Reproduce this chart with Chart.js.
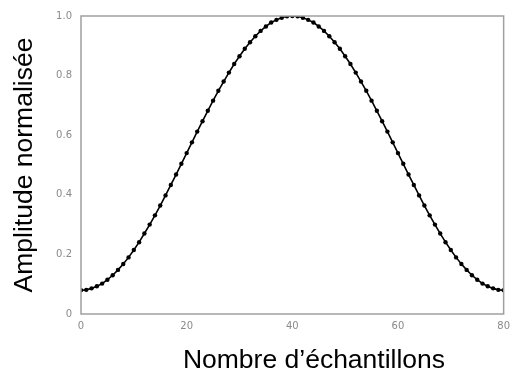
<!DOCTYPE html>
<html lang="fr">
<head>
<meta charset="UTF-8">
<title>Amplitude normalisée</title>
<script src="https://cdn.jsdelivr.net/npm/chart.js"></script>
<style>
  html, body { margin: 0; padding: 0; background: #fff; }
  #wrap { width: 516px; height: 376px; position: relative; }
</style>
</head>
<body>
<div id="wrap"><canvas id="chart"></canvas></div>
<script>
// indices des échantillons
const samples = [
  0, 1, 2, 3, 4, 5, 6, 7, 8, 9, 10, 11, 12, 13, 14, 15, 16, 17, 18, 19, 20,
  21, 22, 23, 24, 25, 26, 27, 28, 29, 30, 31, 32, 33, 34, 35, 36, 37, 38, 39, 40,
  41, 42, 43, 44, 45, 46, 47, 48, 49, 50, 51, 52, 53, 54, 55, 56, 57, 58, 59, 60,
  61, 62, 63, 64, 65, 66, 67, 68, 69, 70, 71, 72, 73, 74, 75, 76, 77, 78, 79, 80
];

// amplitude
const amplitude = [
  0.080, 0.081, 0.086, 0.093, 0.102, 0.115, 0.130, 0.148, 0.168, 0.190, 0.215,
  0.241, 0.270, 0.300, 0.331, 0.364, 0.398, 0.433, 0.468, 0.504, 0.540,
  0.576, 0.612, 0.647, 0.682, 0.716, 0.749, 0.780, 0.810, 0.839, 0.865,
  0.890, 0.912, 0.932, 0.950, 0.965, 0.978, 0.987, 0.994, 0.999, 1.000,
  0.999, 0.994, 0.987, 0.978, 0.965, 0.950, 0.932, 0.912, 0.890, 0.865,
  0.839, 0.810, 0.780, 0.749, 0.716, 0.682, 0.647, 0.612, 0.576, 0.540,
  0.504, 0.468, 0.433, 0.398, 0.364, 0.331, 0.300, 0.270, 0.241, 0.215,
  0.190, 0.168, 0.148, 0.130, 0.115, 0.102, 0.093, 0.086, 0.081, 0.080
];

const xTicks = [0, 20, 40, 60, 80];
const yTicks = [0, 0.2, 0.4, 0.6, 0.8, 1.0];

const xTitle = 'Nombre d\u2019échantillons';
const yTitle = 'Amplitude normalisée';

const frameColor = '#a0a0a0';
const tickColor = '#8a8a8a';

// cadre complet autour de la zone de tracé + titre de l'axe x
const framePlugin = {
  id: 'frame',
  afterDraw(chart) {
    const { ctx, chartArea: a } = chart;
    ctx.save();
    ctx.strokeStyle = frameColor;
    ctx.lineWidth = 1.5;
    ctx.strokeRect(a.left, a.top, a.right - a.left, a.bottom - a.top);

    ctx.fillStyle = '#000';
    ctx.font = '26.5px "Liberation Sans", Arial, sans-serif';
    ctx.textAlign = 'center';
    ctx.textBaseline = 'alphabetic';
    ctx.fillText(xTitle, 314, 368);
    ctx.restore();
  }
};

new Chart(document.getElementById('chart'), {
  type: 'line',
  data: {
    datasets: [{
      data: samples.map((s, i) => ({ x: s, y: amplitude[i] })),
      borderColor: '#000',
      borderWidth: 1.6,
      backgroundColor: '#000',
      pointRadius: 2.2,
      pointBorderWidth: 0,
      pointBackgroundColor: '#000',
      tension: 0,
      fill: false
    }]
  },
  options: {
    responsive: true,
    maintainAspectRatio: false,
    animation: false,
    layout: { padding: { top: 16, right: 9, left: 0, bottom: 0 } },
    plugins: {
      legend: { display: false },
      tooltip: { enabled: false }
    },
    scales: {
      x: {
        type: 'linear',
        min: 0,
        max: 80,
        afterBuildTicks: scale => { scale.ticks = xTicks.map(v => ({ value: v })); },
        afterFit: scale => { scale.height = 62; },
        grid: { display: false, drawTicks: false },
        border: { display: false },
        ticks: {
          color: tickColor,
          padding: 6,
          maxRotation: 0,
          font: { size: 10, family: '"DejaVu Sans", sans-serif' }
        }
      },
      y: {
        min: 0,
        max: 1,
        afterBuildTicks: scale => { scale.ticks = yTicks.map(v => ({ value: v })); },
        afterFit: scale => { scale.width = 81; },
        grid: { display: false, drawTicks: false },
        border: { display: false },
        ticks: {
          color: tickColor,
          padding: 9,
          font: { size: 10, family: '"DejaVu Sans", sans-serif' },
          callback: v => (v === 0 ? '0' : v.toFixed(1))
        },
        title: {
          display: true,
          text: yTitle,
          color: '#000',
          padding: { top: 9, bottom: 0 },
          font: { size: 26.5, family: '"Liberation Sans", Arial, sans-serif', lineHeight: 1.2 }
        }
      }
    }
  },
  plugins: [framePlugin]
});
</script>
</body>
</html>
